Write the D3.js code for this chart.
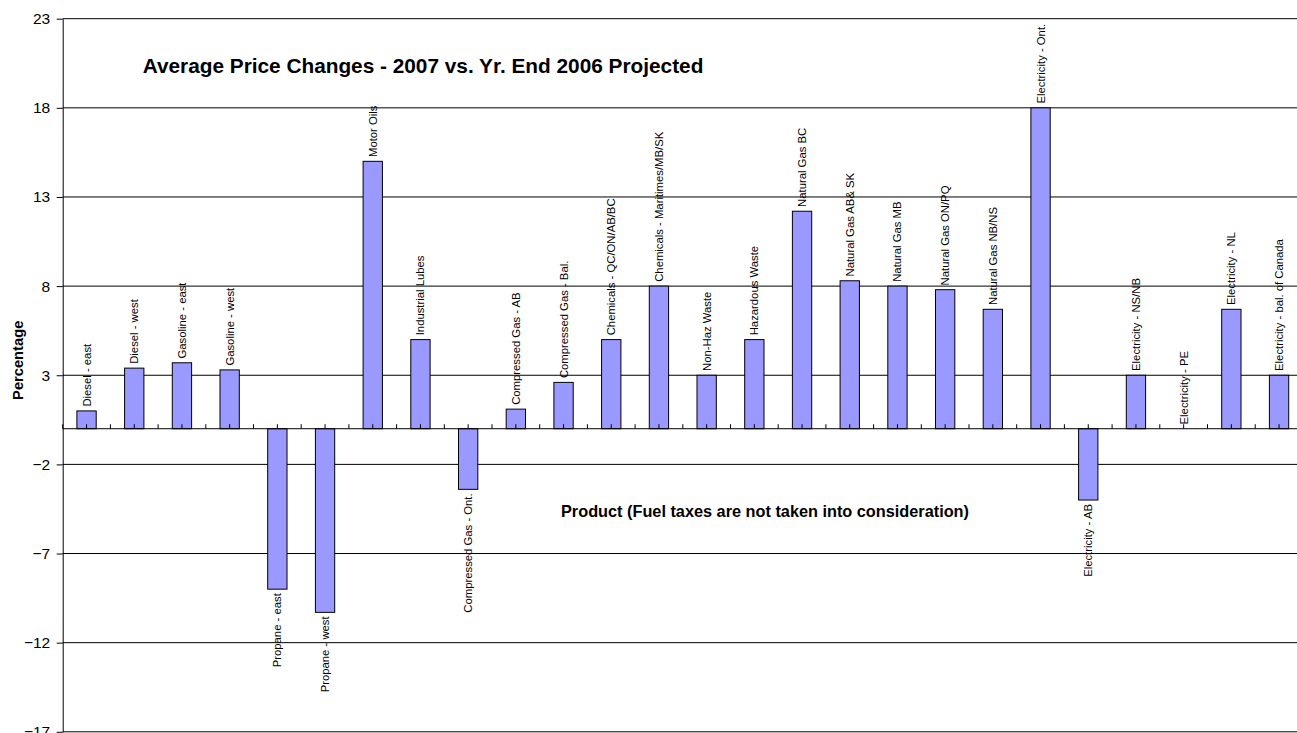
<!DOCTYPE html>
<html><head><meta charset="utf-8">
<script src="https://cdn.jsdelivr.net/npm/d3@7"></script>
<style>body{margin:0;background:#fff;} svg{display:block;background:#fff;}</style>
</head><body>
<svg id="chart" width="1297" height="733"></svg>
<script>
const categories = [
  "Diesel - east", "Diesel - west", "Gasoline - east", "Gasoline - west",
  "Propane - east", "Propane - west", "Motor Oils", "Industrial Lubes",
  "Compressed Gas - Ont.", "Compressed Gas - AB", "Compressed Gas - Bal.",
  "Chemicals - QC/ON/AB/BC", "Chemicals - Maritimes/MB/SK", "Non-Haz Waste",
  "Hazardous Waste", "Natural Gas BC", "Natural Gas AB& SK", "Natural Gas MB",
  "Natural Gas ON/PQ", "Natural Gas NB/NS", "Electricity - Ont.", "Electricity - AB",
  "Electricity - NS/NB", "Electricity - PE", "Electricity - NL", "Electricity - bal. of Canada"
];
const values = [
  1.0, 3.4, 3.7, 3.3,
  -9.0, -10.3, 15.0, 5.0,
  -3.4, 1.1, 2.6,
  5.0, 8.0, 3.0,
  5.0, 12.2, 8.3, 8.0,
  7.8, 6.7, 18.0, -4.0,
  3.0, 0.0, 6.7, 3.0
];
const yTicks = [-17, -12, -7, -2, 3, 8, 13, 18, 23];
const chartTitle = "Average Price Changes - 2007 vs. Yr. End 2006 Projected";
const xTitle = "Product (Fuel taxes are not taken into consideration)";
const yTitle = "Percentage";

(function () {
const FONT = "'Liberation Sans', Arial, Helvetica, sans-serif";
const svg = d3.select("#chart");
const pLeft = 62.7, pRight = 1302.9, pTop = 18.7, pBottom = 731.8;

const x = d3.scaleBand().domain(categories).range([pLeft, pRight])
  .paddingInner(0.595).paddingOuter(0.2975);
const y = d3.scaleLinear().domain([-17, 23]).range([pBottom, pTop]);

svg.append("rect").attr("width", 1297).attr("height", 733).attr("fill", "#fff");

// gridlines
svg.append("g").selectAll("line").data(yTicks).join("line")
  .attr("x1", pLeft).attr("x2", pRight)
  .attr("y1", d => y(d)).attr("y2", d => y(d))
  .attr("stroke", "#000").attr("stroke-width", 1);

// bars
svg.append("g").selectAll("rect").data(values).join("rect")
  .attr("x", (d, i) => x(categories[i]))
  .attr("width", x.bandwidth())
  .attr("y", d => y(Math.max(0, d)))
  .attr("height", d => Math.abs(y(d) - y(0)))
  .attr("fill", "#9999FF")
  .attr("stroke", "#000").attr("stroke-width", 1)
  .style("display", d => d === 0 ? "none" : null);

// zero line (category axis)
svg.append("line").attr("x1", pLeft).attr("x2", pRight)
  .attr("y1", y(0)).attr("y2", y(0)).attr("stroke", "#000");

// category ticks (boundaries and centres), pointing up
const tickPos = [];
categories.forEach(c => {
  const ctr = x(c) + x.bandwidth() / 2;
  tickPos.push(ctr - x.step() / 2, ctr);
});
svg.append("g").selectAll("line").data(tickPos).join("line")
  .attr("x1", d => d).attr("x2", d => d)
  .attr("y1", y(0)).attr("y2", y(0) - 4.5)
  .attr("stroke", "#000");

// y axis
const yAxis = svg.append("g").attr("transform", `translate(${pLeft},0)`)
  .call(d3.axisLeft(y).tickValues(yTicks).tickSize(6).tickSizeOuter(0).tickPadding(6.5).tickFormat(d3.format("d")));
yAxis.select(".domain").attr("stroke", "#000");
yAxis.selectAll(".tick line").attr("stroke", "#000");
yAxis.selectAll("text").attr("font-family", FONT).attr("font-size", "15.5px").attr("fill", "#000");

// bar labels
svg.append("g").selectAll("text").data(values).join("text")
  .attr("transform", (d, i) => {
    const cx = x(categories[i]) + x.bandwidth() / 2;
    const yy = d >= 0 ? y(d) - 4.3 : y(d) + 4;
    return `translate(${cx},${yy}) rotate(-90)`;
  })
  .attr("text-anchor", d => d >= 0 ? "start" : "end")
  .attr("dy", "0.35em")
  .attr("font-family", FONT).attr("font-size", "11.3px").attr("fill", "#000")
  .text((d, i) => categories[i]);

// titles
svg.append("text").attr("x", 142.7).attr("y", 73.3)
  .attr("font-family", FONT).attr("font-size", "20.8px").attr("font-weight", "bold")
  .text(chartTitle);
svg.append("text").attr("x", 765).attr("y", 516.7).attr("text-anchor", "middle")
  .attr("font-family", FONT).attr("font-size", "16.3px").attr("font-weight", "bold")
  .text(xTitle);
svg.append("text").attr("transform", "translate(22.7,360.3) rotate(-90)").attr("text-anchor", "middle")
  .attr("font-family", FONT).attr("font-size", "14.7px").attr("font-weight", "bold")
  .text(yTitle);
})();
</script>
</body></html>
